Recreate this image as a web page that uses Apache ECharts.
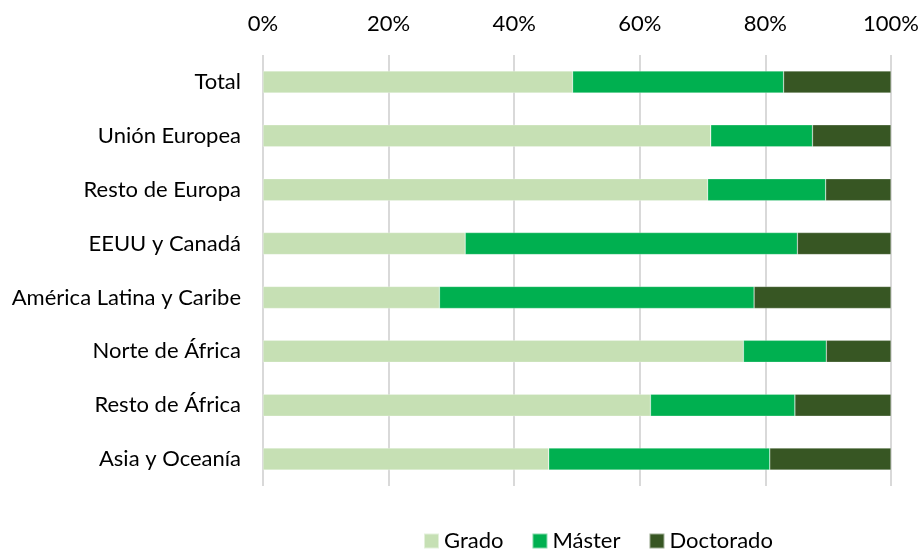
<!DOCTYPE html>
<html><head><meta charset="utf-8">
<script src="https://cdn.jsdelivr.net/npm/echarts@6/dist/echarts.min.js"></script>
<style>html,body{margin:0;padding:0;background:#fff}#c{width:919px;height:549px}</style>
</head><body><div id="c"></div>
<script>
const categories = ["Total","Unión Europea","Resto de Europa","EEUU y Canadá","América Latina y Caribe","Norte de África","Resto de África","Asia y Oceanía"];
const grado = [49.3, 71.3, 70.8, 32.2, 28.1, 76.5, 61.7, 45.5];
const master = [33.6, 16.2, 18.8, 52.9, 50.1, 13.2, 23.0, 35.2];
const doctorado = [17.1, 12.5, 10.4, 14.9, 21.8, 10.3, 15.3, 19.3];
const tickLabels = ["0%","20%","40%","60%","80%","100%"];

const font = "Lato, 'Open Sans', sans-serif";
const chart = echarts.init(document.getElementById('c'));
const mk = (name, data, color) => ({
  name, type: 'bar', stack: 'a', data, barWidth: 22,
  itemStyle: { color, borderColor: 'rgba(255,255,255,0.5)', borderWidth: 0.5 },
  emphasis: { disabled: true }
});
chart.setOption({
  animation: false,
  textStyle: { fontFamily: font },
  grid: { left: 263, right: 28, top: 55, bottom: 63, containLabel: false, outerBoundsMode: 'none' },
  legend: {
    top: 525, left: 418, itemWidth: 15, itemHeight: 15, itemGap: 28,
    icon: 'rect',
    textStyle: { fontSize: 22, color: '#000', fontFamily: font },
    data: ['Grado','Máster','Doctorado']
  },
  xAxis: {
    type: 'value', position: 'top', min: 0, max: 100, interval: 20,
    axisLabel: { fontSize: 22, color: '#000', margin: 20,
      formatter: v => tickLabels[Math.round(v/20)] },
    splitLine: { lineStyle: { color: '#d9d9d9', width: 2 } },
    axisLine: { show: false }, axisTick: { show: false }
  },
  yAxis: {
    type: 'category', data: categories, inverse: true,
    axisLabel: { fontSize: 22, color: '#000', margin: 22 },
    axisLine: { show: false }, axisTick: { show: false }
  },
  series: [
    mk('Grado', grado, '#c6e0b4'),
    mk('Máster', master, '#00b050'),
    mk('Doctorado', doctorado, '#375623')
  ]
});
</script></body></html>
